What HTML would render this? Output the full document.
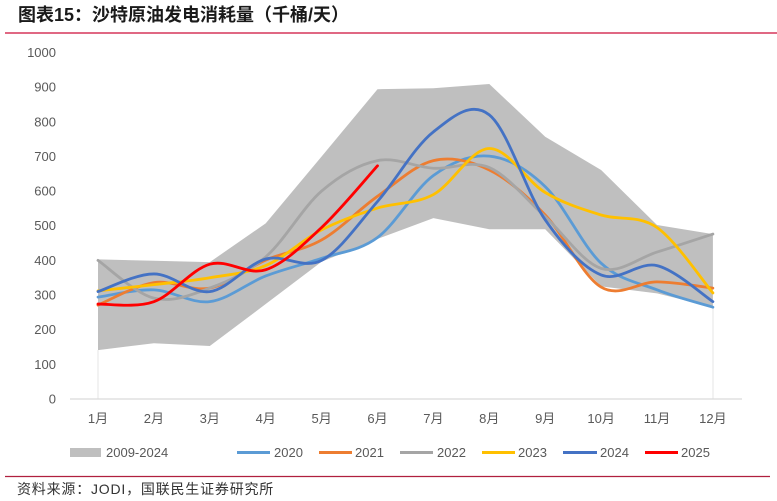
<!DOCTYPE html>
<html><head><meta charset="utf-8"><style>
html,body{margin:0;padding:0;background:#fff;}
svg{display:block;}
</style></head><body>
<svg width="777" height="501" viewBox="0 0 777 501" xmlns="http://www.w3.org/2000/svg">
<rect width="777" height="501" fill="#fff"/>
<text x="18" y="21" font-family="Liberation Sans, Noto Sans CJK SC, sans-serif" font-size="18" font-weight="bold" fill="#1a1a1a">图表15：沙特原油发电消耗量（千桶/天）</text>
<line x1="5" y1="33" x2="777" y2="33" stroke="#D6365A" stroke-width="1.5"/>

<g transform="translate(98,399) scale(55.9,-0.3465)">
<polygon fill="#BFBFBF" points="0,403 1,399 2,395 3,507 4,700 5,894 6,897 7,909 8,757 9,661 10,502 11,476 11,265 10,305 9,325 8,490 7,490 6,522 5,462 4,396 3,274 2,153 1,161 0,141"/>
</g>
<line x1="98" y1="350" x2="98" y2="399" stroke="#E6E6E6" stroke-width="1"/>
<line x1="713" y1="307" x2="713" y2="399" stroke="#E6E6E6" stroke-width="1"/>
<line x1="70" y1="399" x2="742" y2="399" stroke="#D9D9D9" stroke-width="1.2"/>

<g transform="translate(98,399) scale(55.9,-0.3465)" fill="none" stroke-width="2.8" stroke-linecap="round" stroke-linejoin="round">
<path vector-effect="non-scaling-stroke" stroke="#5B9BD5" d="M0 294 C0.1667 297.5 0.6667 317.2 1 315 S1.6667 274.3 2 281 S2.6667 334.2 3 355 S3.6667 387.5 4 406 S4.6667 426.2 5 466 S5.6667 605.8 6 645 S6.6667 706.3 7 701 S7.6667 664.5 8 613 S8.6667 441.7 9 392 S9.6667 336.2 10 315 S10.8333 273.3 11 265"/>
<path vector-effect="non-scaling-stroke" stroke="#ED7D31" d="M0 271 C0.1667 281.8 0.6667 327.8 1 336 S1.6667 309.2 2 320 S2.6667 377.8 3 401 S3.6667 428.3 4 459 S4.6667 546.8 5 585 S5.6667 675.3 6 688 S6.6667 687.2 7 661 S7.6667 587.3 8 531 S8.6667 355.2 9 323 S9.6667 338.5 10 338 S10.8333 323 11 320"/>
<path vector-effect="non-scaling-stroke" stroke="#A5A5A5" d="M0 400 C0.1667 381.8 0.6667 304.3 1 291 S1.6667 300.2 2 320 S2.6667 363.3 3 410 S3.6667 553.7 4 600 S4.6667 677 5 688 S5.6667 669.3 6 666 S6.6667 691.3 7 668 S7.6667 574.5 8 526 S8.6667 394 9 377 S9.6667 407.5 10 424 S10.8333 467.3 11 476"/>
<path vector-effect="non-scaling-stroke" stroke="#FFC000" d="M0 312 C0.1667 315 0.6667 323.7 1 330 S1.6667 340.8 2 350 S2.6667 362 3 385 S3.6667 460.3 4 488 S4.6667 534 5 551 S5.6667 561.3 6 590 S6.6667 722 7 723 S7.6667 628 8 596 S8.6667 547.8 9 531 S9.6667 532.5 10 495 S10.8333 337.5 11 306"/>
<path vector-effect="non-scaling-stroke" stroke="#4472C4" d="M0 310 C0.1667 318.5 0.6667 361 1 361 S1.6667 302.8 2 310 S2.6667 389 3 404 S3.6667 372.3 4 400 S4.6667 508.2 5 570 S5.6667 729.3 6 771 S6.6667 862.3 7 820 S7.6667 594 8 517 S8.6667 380 9 358 S9.6667 397.8 10 385 S10.8333 298.3 11 281"/>
<path vector-effect="non-scaling-stroke" stroke="#FF0000" d="M0 274 C0.1667 275.2 0.6667 261.8 1 281 S1.6667 373.7 2 389 S2.6667 355.3 3 373 S3.6667 445 4 495 S4.8333 643.3 5 673"/>
</g>

<g font-family="Liberation Sans, Noto Sans CJK SC, sans-serif" font-size="13" fill="#595959">
<g text-anchor="end">
<text x="56" y="403.5">0</text>
<text x="56" y="368.8">100</text>
<text x="56" y="334.2">200</text>
<text x="56" y="299.5">300</text>
<text x="56" y="264.9">400</text>
<text x="56" y="230.2">500</text>
<text x="56" y="195.6">600</text>
<text x="56" y="160.9">700</text>
<text x="56" y="126.3">800</text>
<text x="56" y="91.6">900</text>
<text x="56" y="57">1000</text>
</g>
<g text-anchor="middle">
<text x="98" y="423">1月</text>
<text x="153.9" y="423">2月</text>
<text x="209.8" y="423">3月</text>
<text x="265.7" y="423">4月</text>
<text x="321.6" y="423">5月</text>
<text x="377.5" y="423">6月</text>
<text x="433.4" y="423">7月</text>
<text x="489.3" y="423">8月</text>
<text x="545.2" y="423">9月</text>
<text x="601.1" y="423">10月</text>
<text x="657" y="423">11月</text>
<text x="712.9" y="423">12月</text>
</g>
<rect x="70" y="448" width="31" height="9" fill="#BFBFBF"/>
<text x="106" y="457">2009-2024</text>
<line x1="237" y1="452.5" x2="270" y2="452.5" stroke="#5B9BD5" stroke-width="3"/>
<text x="274" y="457">2020</text>
<line x1="319" y1="452.5" x2="352" y2="452.5" stroke="#ED7D31" stroke-width="3"/>
<text x="355" y="457">2021</text>
<line x1="400" y1="452.5" x2="433" y2="452.5" stroke="#A5A5A5" stroke-width="3"/>
<text x="437" y="457">2022</text>
<line x1="482" y1="452.5" x2="515" y2="452.5" stroke="#FFC000" stroke-width="3"/>
<text x="518" y="457">2023</text>
<line x1="563" y1="452.5" x2="597" y2="452.5" stroke="#4472C4" stroke-width="3"/>
<text x="600" y="457">2024</text>
<line x1="645" y1="452.5" x2="678" y2="452.5" stroke="#FF0000" stroke-width="3"/>
<text x="681" y="457">2025</text>
</g>

<line x1="5" y1="476.5" x2="770" y2="476.5" stroke="#B0203F" stroke-width="1.2"/>
<text x="17" y="494" font-family="Liberation Sans, Noto Sans CJK SC, sans-serif" font-size="14" letter-spacing="0.8" fill="#333">资料来源：JODI，国联民生证券研究所</text>
</svg>
</body></html>
